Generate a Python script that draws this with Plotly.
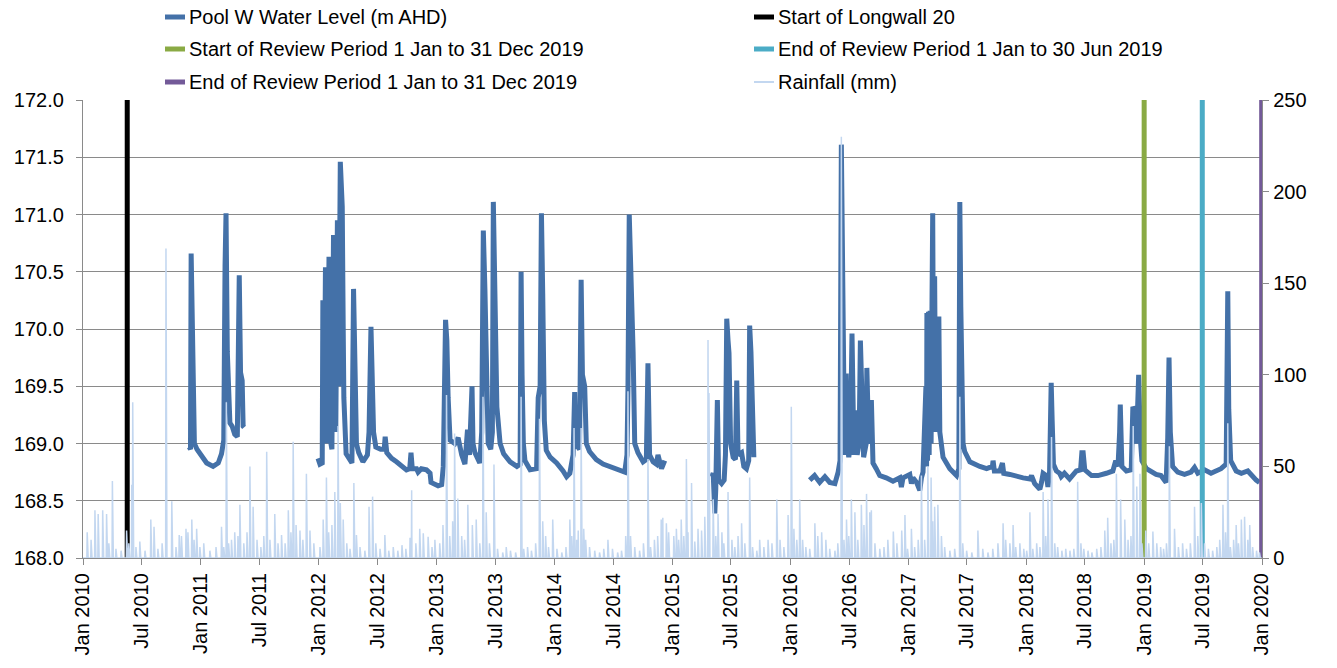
import pandas as pd
import plotly.graph_objects as go

# ---------------- data ----------------
# Pool W water level (m AHD); None marks periods with no record
level_dates = [
    "2010-11-26", "2010-11-30", "2010-12-02", "2010-12-04", "2010-12-08", "2010-12-12", "2010-12-20",
    "2010-12-29", "2011-01-19", "2011-02-08", "2011-02-24", "2011-03-06", "2011-03-13", "2011-03-17",
    "2011-03-20", "2011-03-24", "2011-04-01", "2011-04-08", "2011-04-16", "2011-04-24", "2011-04-30",
    "2011-05-04", "2011-05-09", "2011-05-12", "2011-05-15",
    "2011-09-01",
    "2011-12-30", "2012-01-05", "2012-01-12", "2012-01-14", "2012-01-18", "2012-01-22", "2012-01-27",
    "2012-02-02", "2012-02-08", "2012-02-11", "2012-02-16", "2012-02-23", "2012-02-28", "2012-03-03",
    "2012-03-08", "2012-03-14", "2012-03-17", "2012-03-19", "2012-03-26", "2012-04-06", "2012-04-13",
    "2012-04-18", "2012-04-23", "2012-04-27", "2012-05-04", "2012-05-17", "2012-05-31", "2012-06-05",
    "2012-06-11", "2012-06-15", "2012-06-19", "2012-06-26", "2012-07-11", "2012-07-22", "2012-07-25",
    "2012-07-30", "2012-08-14", "2012-08-29", "2012-09-13", "2012-09-29", "2012-10-09", "2012-10-13",
    "2012-10-17", "2012-10-30", "2012-11-04", "2012-11-14", "2012-11-30", "2012-12-11", "2012-12-14",
    "2012-12-26", "2013-01-05", "2013-01-16", "2013-01-21", "2013-01-28", "2013-02-01", "2013-02-05",
    "2013-02-11", "2013-02-26", "2013-03-08", "2013-03-19", "2013-03-29", "2013-04-06", "2013-04-12",
    "2013-04-20", "2013-04-23", "2013-04-29", "2013-05-14", "2013-05-20", "2013-05-25", "2013-05-30",
    "2013-06-04", "2013-06-09", "2013-06-17", "2013-06-22", "2013-06-25", "2013-06-28", "2013-07-01",
    "2013-07-06", "2013-07-16", "2013-07-27", "2013-08-16", "2013-09-06", "2013-09-16", "2013-09-19",
    "2013-09-22", "2013-09-26", "2013-10-01", "2013-10-17", "2013-11-06", "2013-11-11", "2013-11-17",
    "2013-11-21", "2013-11-25", "2013-11-30", "2013-12-06", "2013-12-18", "2014-01-07", "2014-01-17",
    "2014-01-27", "2014-02-07", "2014-02-17", "2014-02-27", "2014-03-04", "2014-03-07", "2014-03-19",
    "2014-03-24", "2014-03-28", "2014-04-04", "2014-04-09", "2014-04-19", "2014-05-10", "2014-05-31",
    "2014-06-20", "2014-07-11", "2014-08-06", "2014-08-13", "2014-08-16", "2014-08-20", "2014-08-27",
    "2014-09-01", "2014-09-06", "2014-09-16", "2014-10-02", "2014-10-12", "2014-10-17", "2014-10-22",
    "2014-11-02", "2014-11-12", "2014-11-17", "2014-11-28", "2014-12-08",
    "2015-03-01",
    "2015-05-02", "2015-05-07", "2015-05-12", "2015-05-15", "2015-05-20", "2015-05-24", "2015-06-02",
    "2015-06-10", "2015-06-14", "2015-06-18", "2015-06-22", "2015-06-25", "2015-06-30", "2015-07-08",
    "2015-07-15", "2015-07-19", "2015-07-23", "2015-08-03", "2015-08-10", "2015-08-18", "2015-08-25",
    "2015-08-28", "2015-09-01", "2015-09-05", "2015-09-10",
    "2015-12-01",
    "2016-03-01", "2016-03-16", "2016-04-01", "2016-04-17", "2016-05-02", "2016-05-18", "2016-05-28",
    "2016-06-03", "2016-06-07", "2016-06-10", "2016-06-13", "2016-06-17", "2016-06-22", "2016-06-25",
    "2016-06-30", "2016-07-05", "2016-07-10", "2016-07-13", "2016-07-16", "2016-07-23", "2016-07-26",
    "2016-08-01", "2016-08-05", "2016-08-10", "2016-08-15", "2016-08-23", "2016-08-25", "2016-08-30",
    "2016-09-05", "2016-09-08", "2016-09-13", "2016-09-23", "2016-10-04", "2016-10-24", "2016-11-14",
    "2016-12-05", "2016-12-10", "2016-12-15", "2017-01-05", "2017-01-10", "2017-01-15", "2017-01-26",
    "2017-02-05", "2017-02-10", "2017-02-15", "2017-02-24", "2017-02-26", "2017-02-27", "2017-03-01",
    "2017-03-04", "2017-03-06", "2017-03-09", "2017-03-12", "2017-03-15", "2017-03-17", "2017-03-20",
    "2017-03-23", "2017-03-26", "2017-03-30", "2017-04-02", "2017-04-05", "2017-04-08", "2017-04-13",
    "2017-04-18", "2017-05-09", "2017-05-30", "2017-06-06", "2017-06-09", "2017-06-12", "2017-06-15",
    "2017-06-19", "2017-06-24", "2017-07-10", "2017-08-10", "2017-08-31", "2017-09-18", "2017-09-20",
    "2017-09-24", "2017-10-11", "2017-10-19", "2017-10-23", "2017-11-11", "2017-12-01", "2017-12-22",
    "2018-01-12", "2018-01-17", "2018-01-27", "2018-02-12", "2018-02-17", "2018-02-22", "2018-03-04",
    "2018-03-09", "2018-03-14", "2018-03-19", "2018-03-22", "2018-03-26", "2018-04-04", "2018-04-14",
    "2018-04-19", "2018-04-29", "2018-05-15", "2018-06-05", "2018-06-18", "2018-06-22", "2018-06-26",
    "2018-07-01", "2018-07-22", "2018-08-11", "2018-09-06", "2018-09-26", "2018-10-05", "2018-10-12",
    "2018-10-17", "2018-10-19", "2018-10-24", "2018-11-07", "2018-11-22", "2018-11-27", "2018-12-01",
    "2018-12-06", "2018-12-11", "2018-12-15", "2018-12-20", "2018-12-25", "2019-01-08", "2019-01-23",
    "2019-02-07", "2019-02-22", "2019-03-10", "2019-03-15", "2019-03-19", "2019-03-23", "2019-03-30",
    "2019-04-15", "2019-05-06", "2019-05-26", "2019-06-06", "2019-06-16", "2019-07-07", "2019-07-27",
    "2019-08-17", "2019-08-27", "2019-09-12", "2019-09-15", "2019-09-17", "2019-09-20", "2019-09-26",
    "2019-10-13", "2019-10-29", "2019-11-18", "2019-11-29", "2019-12-14", "2019-12-24",
]
level_m = [
    168.97, 168.95, 170.66, 170.20, 169.35, 169.00, 168.95,
    168.91, 168.83, 168.80, 168.83, 168.91, 169.03, 170.55,
    171.01, 169.80, 169.18, 169.15, 169.08, 169.06, 170.47,
    169.62, 169.55, 169.15, 169.14,
    None,
    168.87, 168.82, 168.83, 170.25, 169.00, 170.54, 169.00,
    170.63, 169.00, 168.95, 170.82, 169.10, 170.95, 169.50,
    171.46, 171.07, 170.00, 169.40, 168.91, 168.86, 168.83,
    170.35, 169.55, 169.00, 168.92, 168.84, 168.90, 169.10,
    170.02, 169.55, 169.10, 168.97, 168.95, 168.95, 169.06,
    168.92, 168.87, 168.84, 168.80, 168.77, 168.78, 168.92,
    168.78, 168.78, 168.75, 168.78, 168.77, 168.74, 168.66,
    168.64, 168.63, 168.64, 168.80, 170.08, 169.90, 169.40,
    169.03, 169.00, 169.05, 168.90, 168.82, 169.12, 168.90,
    169.50, 169.00, 168.92, 168.83, 169.10, 170.86, 170.34,
    169.76, 169.00, 168.95, 169.10, 171.11, 170.50, 170.11,
    169.32, 169.00, 168.91, 168.84, 168.80, 168.82, 170.50,
    169.60, 169.00, 168.85, 168.77, 168.78, 169.40, 169.50,
    171.01, 170.31, 169.20, 168.94, 168.88, 168.83, 168.80,
    168.76, 168.71, 168.74, 168.90, 169.45, 169.00, 168.95,
    170.43, 169.60, 169.50, 169.00, 168.93, 168.86, 168.82,
    168.80, 168.77, 168.75, 168.90, 169.47, 171.00, 170.37,
    169.80, 169.00, 168.92, 168.84, 168.86, 169.70, 168.90,
    168.84, 168.82, 168.90, 168.78, 168.85,
    None,
    168.71, 168.74, 168.39, 168.60, 169.38, 168.68, 168.65,
    168.68, 168.90, 170.09, 169.90, 169.79, 169.00, 168.88,
    168.86, 169.55, 168.90, 168.92, 168.80, 168.78, 168.85,
    170.03, 169.80, 169.10, 168.88,
    None,
    168.68, 168.72, 168.66, 168.71, 168.66, 168.65, 168.75,
    168.85, 171.61, 170.50, 169.10, 168.90, 169.61, 169.00,
    168.88, 169.00, 169.96, 169.30, 168.90, 169.29, 168.90,
    169.00, 169.90, 169.40, 168.88, 169.00, 169.66, 169.10,
    169.00, 169.38, 168.83, 168.78, 168.72, 168.70, 168.67,
    168.70, 168.62, 168.70, 168.73, 168.65, 168.70, 168.66,
    168.59, 168.70, 168.75, 169.50, 168.80, 170.14, 168.85,
    170.15, 168.90, 170.16, 169.00, 170.30, 171.01, 169.10,
    170.46, 169.10, 170.11, 169.20, 170.11, 169.10, 168.95,
    168.88, 168.78, 168.72, 168.78, 171.11, 170.20, 169.35,
    169.00, 168.93, 168.84, 168.80, 168.78, 168.80, 168.85,
    168.76, 168.76, 168.83, 168.74, 168.73, 168.71, 168.70,
    168.69, 168.72, 168.65, 168.60, 168.66, 168.74, 168.72,
    168.62, 168.75, 169.53, 169.20, 168.82, 168.76, 168.74,
    168.71, 168.74, 168.69, 168.76, 168.77, 168.92, 168.92,
    168.77, 168.72, 168.72, 168.74, 168.76, 168.85, 168.80,
    169.10, 169.34, 168.80, 168.76, 168.77, 169.32, 169.30,
    169.00, 169.25, 169.60, 169.05, 168.85, 168.78, 168.75,
    168.73, 168.72, 168.66, 169.05, 169.75, 169.10, 168.80,
    168.75, 168.73, 168.75, 168.79, 168.74, 168.77, 168.74,
    168.76, 168.78, 168.82, 169.60, 170.33, 169.30, 168.85,
    168.76, 168.74, 168.76, 168.72, 168.68, 168.66,
]

# Daily rainfall (mm) on rain days
rain_dates = [
    "2010-01-14", "2010-01-26", "2010-02-07", "2010-02-17", "2010-03-03", "2010-03-15", "2010-03-22",
    "2010-04-02", "2010-04-13", "2010-04-29", "2010-05-16", "2010-05-23", "2010-06-01", "2010-06-04",
    "2010-06-14", "2010-06-26", "2010-07-12", "2010-07-30", "2010-08-09", "2010-08-21", "2010-09-03",
    "2010-09-15", "2010-10-03", "2010-10-16", "2010-10-26", "2010-11-02", "2010-11-16", "2010-11-22",
    "2010-12-04", "2010-12-11", "2010-12-19", "2010-12-29",
    "2011-01-10", "2011-01-29", "2011-02-17", "2011-03-06", "2011-03-13", "2011-03-21", "2011-03-28",
    "2011-04-06", "2011-04-16", "2011-04-26", "2011-05-02", "2011-05-14", "2011-05-24", "2011-06-02",
    "2011-06-12", "2011-06-24", "2011-07-06", "2011-07-15", "2011-07-24", "2011-08-03", "2011-08-18",
    "2011-08-28", "2011-09-08", "2011-09-19", "2011-09-29", "2011-10-07", "2011-10-14", "2011-10-23",
    "2011-11-04", "2011-11-13", "2011-11-24", "2011-12-05", "2011-12-17",
    "2012-01-05", "2012-01-15", "2012-01-25", "2012-02-01", "2012-02-11", "2012-02-20", "2012-03-01",
    "2012-03-08", "2012-03-17", "2012-03-28", "2012-04-07", "2012-04-19", "2012-04-27", "2012-05-08",
    "2012-05-23", "2012-06-05", "2012-06-16", "2012-06-26", "2012-07-09", "2012-07-24", "2012-08-05",
    "2012-08-19", "2012-09-02", "2012-09-15", "2012-09-27", "2012-10-10", "2012-10-15", "2012-10-28",
    "2012-11-09", "2012-11-20", "2012-12-05", "2012-12-17", "2012-12-26",
    "2013-01-10", "2013-01-20", "2013-01-31", "2013-02-10", "2013-02-19", "2013-02-25", "2013-03-07",
    "2013-03-19", "2013-03-28", "2013-04-07", "2013-04-21", "2013-05-03", "2013-05-14", "2013-05-24",
    "2013-06-03", "2013-06-13", "2013-06-27", "2013-07-08", "2013-07-24", "2013-08-04", "2013-08-17",
    "2013-09-02", "2013-09-19", "2013-09-27", "2013-10-09", "2013-10-21", "2013-11-03", "2013-11-15",
    "2013-11-25", "2013-12-04", "2013-12-13", "2013-12-26",
    "2014-01-08", "2014-01-23", "2014-02-05", "2014-02-17", "2014-02-23", "2014-03-02", "2014-03-10",
    "2014-03-15", "2014-03-24", "2014-04-01", "2014-04-07", "2014-04-19", "2014-05-05", "2014-05-20",
    "2014-06-02", "2014-06-15", "2014-06-29", "2014-07-15", "2014-07-27", "2014-08-09", "2014-08-16",
    "2014-08-24", "2014-09-06", "2014-09-21", "2014-10-03", "2014-10-17", "2014-10-25", "2014-11-06",
    "2014-11-16", "2014-11-27", "2014-12-02", "2014-12-13", "2014-12-20",
    "2015-01-05", "2015-01-13", "2015-01-20", "2015-01-28", "2015-02-05", "2015-02-13", "2015-02-18",
    "2015-03-01", "2015-03-11", "2015-03-21", "2015-04-01", "2015-04-11", "2015-04-21", "2015-04-24",
    "2015-05-07", "2015-05-15", "2015-05-22", "2015-06-03", "2015-06-09", "2015-06-22", "2015-07-04",
    "2015-07-13", "2015-07-23", "2015-08-03", "2015-08-13", "2015-08-28", "2015-09-06", "2015-09-19",
    "2015-09-28", "2015-10-11", "2015-10-24", "2015-11-05", "2015-11-20", "2015-11-30", "2015-12-12",
    "2015-12-25",
    "2016-01-04", "2016-01-12", "2016-01-21", "2016-01-30", "2016-02-08", "2016-02-18", "2016-03-01",
    "2016-03-17", "2016-03-26", "2016-04-07", "2016-04-20", "2016-05-02", "2016-05-18", "2016-05-27",
    "2016-06-07", "2016-06-15", "2016-06-23", "2016-06-30", "2016-07-08", "2016-07-19", "2016-07-28",
    "2016-08-08", "2016-08-16", "2016-08-24", "2016-09-03", "2016-09-08", "2016-09-19", "2016-10-04",
    "2016-10-17", "2016-10-29", "2016-11-15", "2016-11-26", "2016-12-11", "2016-12-21", "2016-12-29",
    "2017-01-10", "2017-01-20", "2017-01-31", "2017-02-10", "2017-02-20", "2017-03-02", "2017-03-12",
    "2017-03-17", "2017-03-23", "2017-04-02", "2017-04-13", "2017-04-23", "2017-05-09", "2017-05-24",
    "2017-06-09", "2017-06-18", "2017-06-30", "2017-07-16", "2017-08-04", "2017-08-19", "2017-09-04",
    "2017-09-19", "2017-10-05", "2017-10-21", "2017-10-29", "2017-11-11", "2017-11-21", "2017-11-29",
    "2017-12-12", "2017-12-24",
    "2018-01-02", "2018-01-12", "2018-01-21", "2018-02-02", "2018-02-12", "2018-02-22", "2018-03-02",
    "2018-03-09", "2018-03-20", "2018-03-30", "2018-04-08", "2018-04-21", "2018-05-03", "2018-05-16",
    "2018-05-28", "2018-06-09", "2018-06-19", "2018-06-28", "2018-07-11", "2018-07-23", "2018-08-07",
    "2018-08-20", "2018-09-01", "2018-09-10", "2018-09-20", "2018-09-29", "2018-10-07", "2018-10-20",
    "2018-11-02", "2018-11-12", "2018-11-21", "2018-11-28", "2018-12-09", "2018-12-19", "2018-12-25",
    "2019-01-06", "2019-01-15", "2019-01-28", "2019-02-09", "2019-02-21", "2019-03-02", "2019-03-11",
    "2019-03-20", "2019-04-05", "2019-04-17", "2019-04-30", "2019-05-12", "2019-05-24", "2019-06-06",
    "2019-06-16", "2019-06-27", "2019-07-07", "2019-07-19", "2019-08-01", "2019-08-14", "2019-08-23",
    "2019-09-02", "2019-09-10", "2019-09-17", "2019-09-25", "2019-10-05", "2019-10-13", "2019-10-20",
    "2019-10-29", "2019-11-08", "2019-11-18", "2019-11-24", "2019-12-03", "2019-12-15", "2019-12-24",
]
rain_mm = [
    14, 10, 26, 24, 26, 24, 8,
    42, 5, 4, 15, 8, 40, 85,
    6, 9, 4, 21, 17, 5, 8,
    169, 31, 6, 12.5, 12, 16, 14,
    21, 10, 16, 6,
    8, 4, 6, 17, 6, 85, 8,
    10, 14, 12, 29, 8, 14, 50,
    28, 10, 6, 12, 58, 10, 24,
    8, 12.5, 8, 26, 14, 63.5, 18,
    15, 10, 46, 15, 8,
    6, 21, 44, 14, 18, 36, 72,
    30, 21, 8, 5, 41, 12.5, 6,
    4, 28, 33.5, 8, 5, 12.5, 4,
    6, 4, 7, 5, 11, 37, 8,
    16, 13.5, 11.6, 6, 10,
    8, 18, 89, 12, 20, 68, 32.5,
    12, 10, 29, 18, 21, 8, 88,
    25, 8, 51, 5, 3, 6, 4,
    3, 88, 5, 6, 4, 8, 76,
    20, 12, 6, 21,
    5, 3, 6, 21, 12, 71, 10,
    15, 71, 16, 10, 6, 4, 3,
    5, 10, 5, 3, 4, 12, 91,
    12, 6, 4, 8, 54, 6, 10,
    12, 21, 22, 19, 14,
    12, 16, 10, 21, 12, 54, 14,
    41, 9, 16, 15, 22.5, 119, 90,
    32, 12, 24, 14, 8, 36, 10,
    6, 12, 19, 8, 44, 6, 4,
    10, 6, 10, 8, 32, 10, 6,
    23.5,
    82.6, 16, 10, 32, 10, 6, 5,
    19, 12, 14, 10, 5, 4, 8,
    230, 10, 21, 12, 32, 25, 10,
    29, 18, 35, 25, 26, 8, 5,
    6, 10, 14.4, 8, 15, 23.5, 5,
    16, 6, 10, 45, 10, 50, 44,
    20, 28, 29, 12, 6, 4, 5,
    88, 8, 4, 3, 15, 5, 3,
    5, 8, 19, 10, 8, 18, 6,
    8, 5,
    4, 25, 5, 8, 6, 36, 12,
    32, 66, 8, 6, 4, 5, 4,
    5, 41.6, 8, 5, 4, 3, 5,
    6, 15, 22, 8, 10, 46, 32,
    21, 10, 12, 72, 39, 46, 8,
    15, 8, 14.4, 8, 6, 5, 8,
    61, 16, 6, 8, 5, 8, 28,
    12, 30, 8, 5, 4, 6, 10,
    29, 14, 73.5, 6, 10, 18, 8,
    21, 22.5, 10, 18, 6, 4, 3,
]

# Event dates drawn as vertical markers
longwall_start = "2010-05-18"
review_start = "2019-01-01"
review_end_jun = "2019-06-30"
review_end_dec = "2019-12-31"

tick_dates = [
    "2010-01-01", "2010-07-01", "2011-01-01", "2011-07-01", "2012-01-01", "2012-07-01", "2013-01-01",
    "2013-07-01", "2014-01-01", "2014-07-01", "2015-01-01", "2015-07-01", "2016-01-01", "2016-07-01",
    "2017-01-01", "2017-07-01", "2018-01-01", "2018-07-01", "2019-01-01", "2019-07-01", "2020-01-01",
]
tick_labels = [
    "Jan 2010", "Jul 2010", "Jan 2011", "Jul 2011", "Jan 2012", "Jul 2012", "Jan 2013",
    "Jul 2013", "Jan 2014", "Jul 2014", "Jan 2015", "Jul 2015", "Jan 2016", "Jul 2016",
    "Jan 2017", "Jul 2017", "Jan 2018", "Jul 2018", "Jan 2019", "Jul 2019", "Jan 2020",
]

# ---------------- styling ----------------
FONT = "Liberation Sans, Arial, sans-serif"
BLUE = "#4471A8"
RAIN = "#C3D7F0"
GRID = "#8A8A8A"
series_styles = [
    ("Pool W Water Level (m AHD)", BLUE, 5),
    ("Start of Longwall 20", "#000000", 5),
    ("Start of Review Period 1 Jan to 31 Dec 2019", "#8AAA44", 5),
    ("End of Review Period 1 Jan to 30 Jun 2019", "#4BACC6", 5),
    ("End of Review Period 1 Jan to 31 Dec 2019", "#735A98", 5),
    ("Rainfall (mm)", RAIN, 2),
]

# daily rainfall record: zero on days without rain
days = pd.date_range("2010-01-01", "2019-12-31", freq="D")
rain = pd.Series(0.0, index=days)
rain.loc[pd.to_datetime(rain_dates)] = rain_mm

fig = go.Figure()

fig.add_trace(go.Scatter(
    x=level_dates, y=level_m, mode="lines", connectgaps=False,
    line=dict(color=BLUE, width=5, shape="linear"),
    name=series_styles[0][0], showlegend=False,
))

for (name, color, width), date in zip(series_styles[1:5],
                                      [longwall_start, review_start, review_end_jun, review_end_dec]):
    fig.add_trace(go.Scatter(
        x=[date, date], y=[168.0, 172.0], mode="lines",
        line=dict(color=color, width=width), name=name, showlegend=False,
    ))

fig.add_trace(go.Scatter(
    x=rain.index, y=rain.values, mode="lines", yaxis="y2",
    line=dict(color=RAIN, width=1.5), name=series_styles[5][0], showlegend=False,
))

# ---------------- layout ----------------
W, H = 1337, 668
L, R, T, B = 83, 75, 100, 110
PW, PH = W - L - R, H - T - B


def px_x(x):
    return (x - L) / PW


def px_y(y):
    return (H - B - y) / PH


# two-column legend above the plot
legend_cols = [187, 776]
legend_rows = [17, 49, 82]
shapes, annotations = [], []
for i, (name, color, width) in enumerate(series_styles):
    tx = legend_cols[i % 2]
    ty = legend_rows[i // 2]
    shapes.append(dict(
        type="line", xref="paper", yref="paper",
        x0=px_x(tx - 22), x1=px_x(tx - 2), y0=px_y(ty), y1=px_y(ty),
        line=dict(color=color, width=width),
    ))
    annotations.append(dict(
        xref="paper", yref="paper", x=px_x(tx), y=px_y(ty),
        xanchor="left", yanchor="middle", text=name, showarrow=False,
        font=dict(family=FONT, size=20, color="#000000"),
    ))

axis_font = dict(family=FONT, size=20, color="#000000")
fig.update_layout(
    width=W, height=H,
    margin=dict(l=L, r=R, t=T, b=B, pad=0),
    paper_bgcolor="white", plot_bgcolor="white",
    showlegend=False,
    font=dict(family=FONT, size=20, color="#000000"),
    shapes=shapes, annotations=annotations,
    xaxis=dict(
        type="date", range=["2010-01-01", "2020-01-01"],
        tickvals=tick_dates, ticktext=tick_labels, tickangle=-90,
        ticks="outside", ticklen=6, tickwidth=1.3, tickcolor=GRID,
        showline=True, linecolor=GRID, linewidth=1.3,
        showgrid=False, zeroline=False, tickfont=axis_font,
    ),
    yaxis=dict(
        range=[168.0, 172.0], dtick=0.5, tick0=168.0, tickformat=".1f",
        ticks="outside", ticklen=6, tickwidth=1.3, tickcolor=GRID,
        ticklabelstandoff=8,
        showline=True, linecolor=GRID, linewidth=1.3,
        showgrid=True, gridcolor=GRID, gridwidth=1.4, zeroline=False,
        tickfont=axis_font,
    ),
    yaxis2=dict(
        overlaying="y", side="right", range=[0, 250], dtick=50,
        ticks="outside", ticklen=6, tickwidth=1.3, tickcolor=GRID,
        showline=True, linecolor=GRID, linewidth=1.3,
        showgrid=False, zeroline=False, tickfont=axis_font,
    ),
)

fig.write_html("out.html")
